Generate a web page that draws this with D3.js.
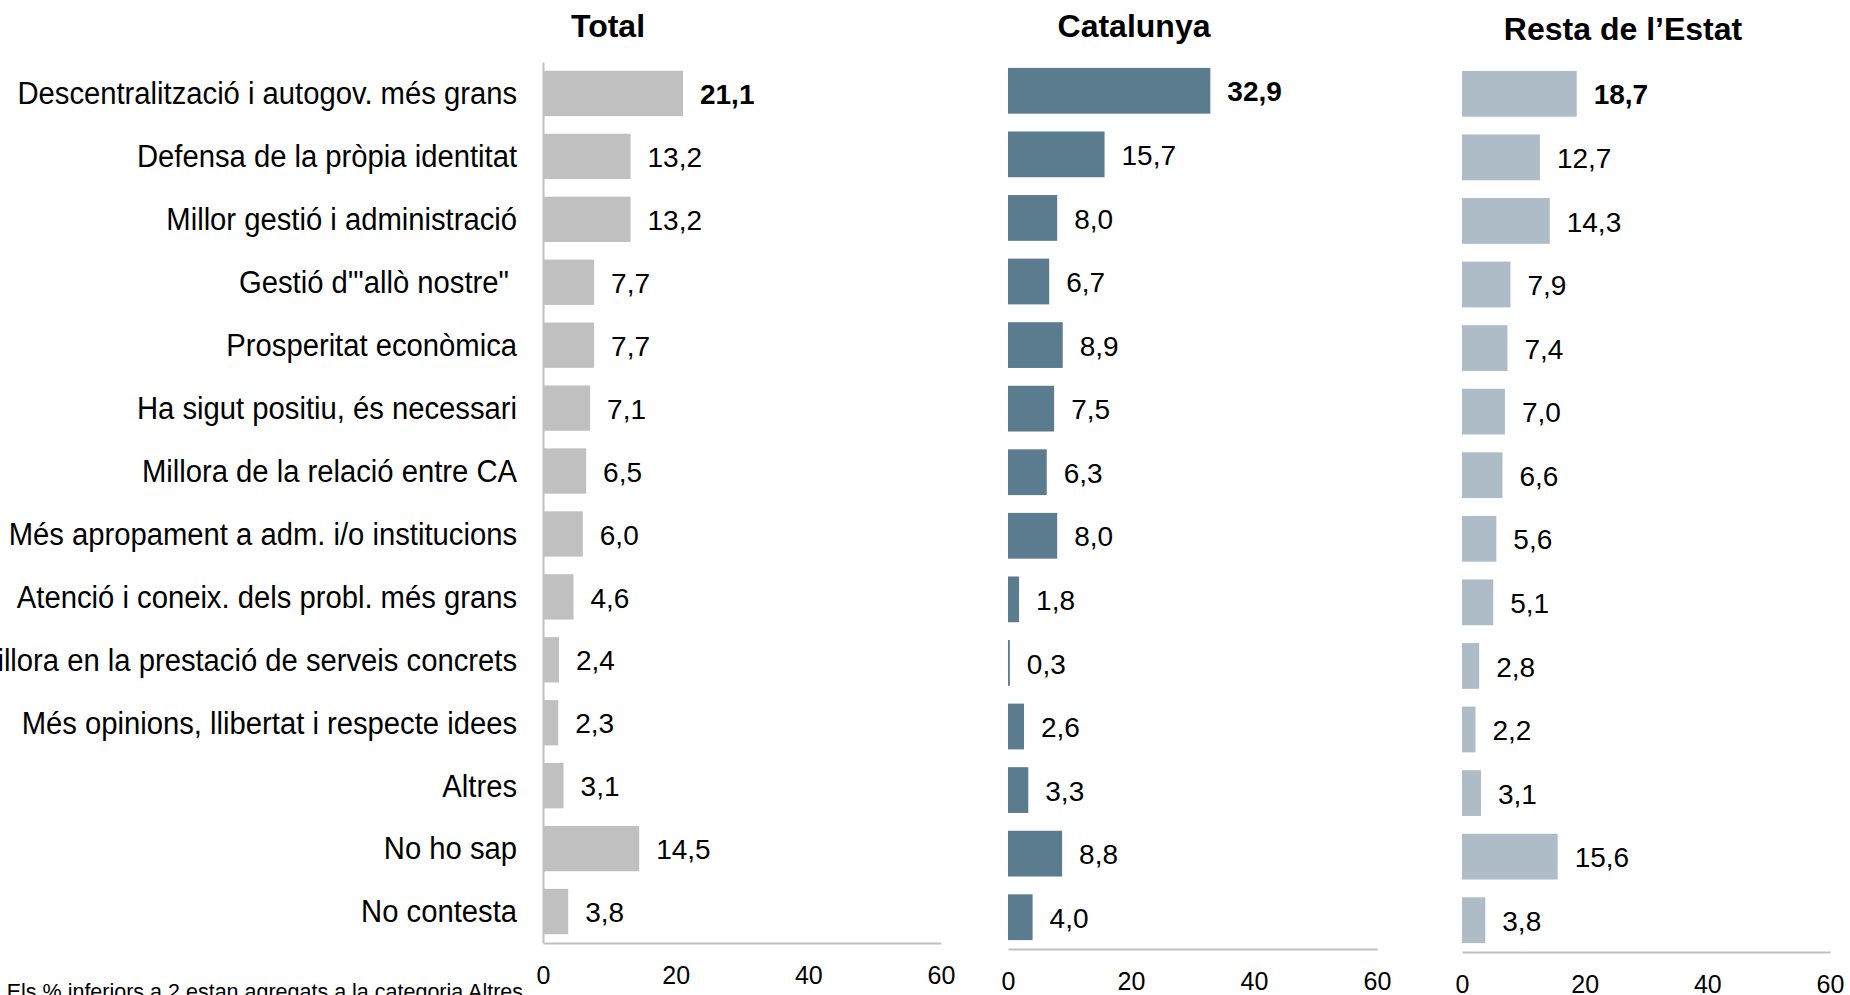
<!DOCTYPE html>
<html>
<head>
<meta charset="utf-8">
<script src="https://cdn.jsdelivr.net/npm/d3@7"></script>
<style>
  body { margin: 0; background: #fff; }
  svg { display: block; font-family: "Liberation Sans", Arial, sans-serif; }
</style>
</head>
<body>
<svg id="chart" width="1850" height="995"></svg>
<script>
const categories = [
  "Descentralització i autogov. més grans",
  "Defensa de la pròpia identitat",
  "Millor gestió i administració",
  "Gestió d'\"allò nostre\" ",
  "Prosperitat econòmica",
  "Ha sigut positiu, és necessari",
  "Millora de la relació entre CA",
  "Més apropament a adm. i/o institucions",
  "Atenció i coneix. dels probl. més grans",
  "Millora en la prestació de serveis concrets",
  "Més opinions, llibertat i respecte idees",
  "Altres",
  "No ho sap",
  "No contesta"
];
const totalValues = [21.1, 13.2, 13.2, 7.7, 7.7, 7.1, 6.5, 6.0, 4.6, 2.4, 2.3, 3.1, 14.5, 3.8];
const catalunyaValues = [32.9, 15.7, 8.0, 6.7, 8.9, 7.5, 6.3, 8.0, 1.8, 0.3, 2.6, 3.3, 8.8, 4.0];
const restaValues = [18.7, 12.7, 14.3, 7.9, 7.4, 7.0, 6.6, 5.6, 5.1, 2.8, 2.2, 3.1, 15.6, 3.8];
const panelTitles = ["Total", "Catalunya", "Resta de l\u2019Estat"];
const xTicks = [0, 20, 40, 60];
const footnote = "(*) Els % inferiors a 2 estan agregats a la categoria Altres";

const panels = [
  { title: panelTitles[0], values: totalValues, color: "#c0c0c0",
    x: [543, 941], y: [62, 943], titleX: 608, titleY: 37, vAxis: true },
  { title: panelTitles[1], values: catalunyaValues, color: "#5b7c8f",
    x: [1008, 1377], y: [59, 949], titleX: 1134, titleY: 37, vAxis: false },
  { title: panelTitles[2], values: restaValues, color: "#adbcc6",
    x: [1462, 1830], y: [62, 952], titleX: 1623, titleY: 40, vAxis: false }
];

const fmt = v => d3.format(".1f")(v).replace(".", ",");
const svg = d3.select("#chart");

panels.forEach((p, pi) => {
  const x = d3.scaleLinear().domain([0, 60]).range(p.x);
  const y = d3.scaleBand().domain(categories).range(p.y).paddingInner(0.28).paddingOuter(0.14);
  const g = svg.append("g");

  g.append("text")
    .attr("x", p.titleX)
    .attr("y", p.titleY)
    .attr("text-anchor", "middle")
    .attr("font-size", 32)
    .attr("font-weight", "bold")
    .attr("fill", "#000")
    .text(p.title);

  g.selectAll("rect.bar")
    .data(p.values)
    .enter()
    .append("rect")
    .attr("class", "bar")
    .attr("x", x(0))
    .attr("y", (d, i) => y(categories[i]))
    .attr("width", d => x(d) - x(0))
    .attr("height", y.bandwidth())
    .attr("fill", p.color);

  g.selectAll("text.val")
    .data(p.values)
    .enter()
    .append("text")
    .attr("class", "val")
    .attr("x", d => x(d) + 17)
    .attr("y", (d, i) => y(categories[i]) + y.bandwidth() / 2)
    .attr("dy", "0.38em")
    .attr("font-size", 28)
    .attr("font-weight", (d, i) => i === 0 ? "bold" : "normal")
    .attr("fill", "#000")
    .text(fmt);

  const yEnd = p.y[1];
  const xAxis = d3.axisBottom(x)
    .tickValues(xTicks)
    .tickSizeInner(0)
    .tickSizeOuter(0)
    .tickPadding(23);
  const ax = g.append("g")
    .attr("transform", `translate(0, ${yEnd})`)
    .call(xAxis);
  ax.select(".domain").attr("stroke", "#c0c0c0").attr("stroke-width", 2);
  ax.selectAll("text")
    .attr("font-size", 25)
    .attr("font-family", "Liberation Sans, Arial, sans-serif")
    .attr("fill", "#000");

  if (p.vAxis) {
    const yAxis = d3.axisLeft(y).tickSize(0).tickFormat("").tickSizeOuter(0);
    const ay = g.append("g")
      .attr("transform", `translate(${x(0)}, 0)`)
      .call(yAxis);
    ay.select(".domain").attr("stroke", "#c0c0c0").attr("stroke-width", 2);

    // category labels (slightly condensed, as in the original)
    g.selectAll("text.cat")
      .data(categories)
      .enter()
      .append("text")
      .attr("class", "cat")
      .attr("transform", d => `translate(${x(0) - 26}, ${y(d) + y.bandwidth() / 2}) scale(0.943, 1)`)
      .attr("dy", "0.35em")
      .attr("text-anchor", "end")
      .attr("font-size", 31)
      .attr("fill", "#000")
      .style("white-space", "pre")
      .text(d => d);
  }
});

svg.append("text")
  .attr("x", 523)
  .attr("y", 999)
  .attr("text-anchor", "end")
  .attr("font-size", 21.5)
  .attr("fill", "#000")
  .text(footnote);
</script>
</body>
</html>
